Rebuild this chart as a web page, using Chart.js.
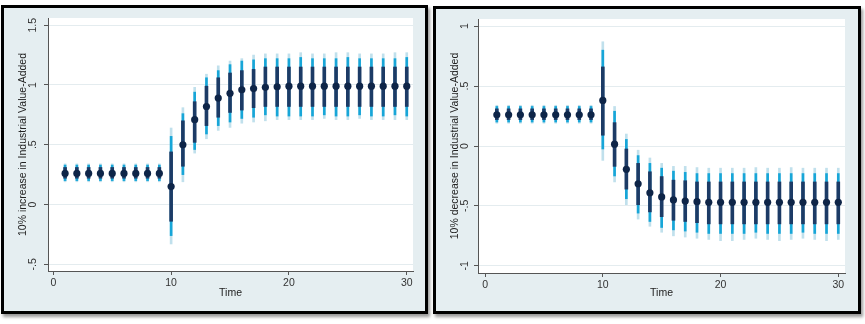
<!DOCTYPE html>
<html>
<head>
<meta charset="utf-8">
<script src="https://cdn.jsdelivr.net/npm/chart.js@4.4.1/dist/chart.umd.min.js"></script>
<style>
  body { margin: 0; background: #fff; }
  .panel { position: absolute; border: 3px solid #000; background: #e5eef1; box-shadow: 2px 3px 3px rgba(0,0,0,0.4); }
  #panelUp { left: 1px; top: 5px; width: 421px; height: 303px; }
  #panelDown { left: 433px; top: 6px; width: 422px; height: 302px; }
  canvas { display: block; }
</style>
</head>
<body>
<div class="panel" id="panelUp"><canvas id="upChart" width="421" height="303"></canvas></div>
<div class="panel" id="panelDown"><canvas id="downChart" width="422" height="302"></canvas></div>
<script>
const periods = [1, 2, 3, 4, 5, 6, 7, 8, 9, 10, 11, 12, 13, 14, 15, 16, 17, 18, 19, 20, 21, 22, 23, 24, 25, 26, 27, 28, 29, 30];
const xTicks = [0, 10, 20, 30];
const upTicks = [-0.5, 0, 0.5, 1, 1.5];
const downTicks = [-1, -0.5, 0, 0.5, 1];

// 10% increase: point estimate and three confidence bands (inner, middle, outer)
const upEst = [0.26, 0.26, 0.26, 0.26, 0.26, 0.26, 0.26, 0.26, 0.26, 0.15, 0.50, 0.71, 0.82, 0.89, 0.93, 0.96, 0.97, 0.98, 0.985, 0.99, 0.99, 0.99, 0.99, 0.99, 0.99, 0.99, 0.99, 0.99, 0.99, 0.99];
const upInner = [[0.22, 0.31], [0.22, 0.31], [0.22, 0.31], [0.22, 0.31], [0.22, 0.31], [0.22, 0.31], [0.22, 0.31], [0.22, 0.31], [0.22, 0.31],
  [-0.14, 0.44], [0.32, 0.70], [0.52, 0.86], [0.66, 0.99], [0.73, 1.06], [0.77, 1.10], [0.79, 1.12], [0.81, 1.13], [0.82, 1.15], [0.82, 1.15],
  [0.82, 1.15], [0.82, 1.15], [0.82, 1.15], [0.82, 1.15], [0.82, 1.15], [0.82, 1.15], [0.82, 1.15], [0.82, 1.15], [0.82, 1.15], [0.82, 1.15], [0.82, 1.15]];
const upMid = [[0.20, 0.33], [0.20, 0.33], [0.20, 0.33], [0.20, 0.33], [0.20, 0.33], [0.20, 0.33], [0.20, 0.33], [0.20, 0.33], [0.20, 0.33],
  [-0.26, 0.57], [0.25, 0.76], [0.46, 0.94], [0.59, 1.06], [0.66, 1.12], [0.69, 1.17], [0.72, 1.20], [0.73, 1.21], [0.75, 1.22], [0.74, 1.22],
  [0.74, 1.22], [0.74, 1.23], [0.74, 1.22], [0.75, 1.22], [0.74, 1.22], [0.74, 1.23], [0.75, 1.22], [0.74, 1.22], [0.74, 1.22], [0.75, 1.22], [0.74, 1.23]];
const upOuter = [[0.19, 0.34], [0.19, 0.34], [0.19, 0.34], [0.19, 0.34], [0.19, 0.34], [0.19, 0.34], [0.19, 0.34], [0.19, 0.34], [0.19, 0.34],
  [-0.33, 0.64], [0.19, 0.81], [0.43, 0.98], [0.55, 1.09], [0.62, 1.16], [0.645, 1.20], [0.68, 1.22], [0.69, 1.25], [0.70, 1.26], [0.71, 1.26],
  [0.71, 1.26], [0.71, 1.27], [0.71, 1.26], [0.72, 1.26], [0.71, 1.27], [0.71, 1.27], [0.72, 1.26], [0.71, 1.26], [0.71, 1.26], [0.71, 1.27], [0.71, 1.27]];

// 10% decrease
const downEst = [0.26, 0.26, 0.26, 0.26, 0.26, 0.26, 0.26, 0.26, 0.26, 0.38, 0.015, -0.195, -0.315, -0.39, -0.425, -0.45, -0.46, -0.465, -0.47, -0.47, -0.47, -0.47, -0.47, -0.47, -0.47, -0.47, -0.47, -0.47, -0.47, -0.47];
const downInner = [[0.22, 0.31], [0.22, 0.31], [0.22, 0.31], [0.22, 0.31], [0.22, 0.31], [0.22, 0.31], [0.22, 0.31], [0.22, 0.31], [0.22, 0.31],
  [0.09, 0.66], [-0.17, 0.195], [-0.36, -0.025], [-0.49, -0.145], [-0.55, -0.215], [-0.59, -0.255], [-0.62, -0.285], [-0.63, -0.29], [-0.64, -0.30], [-0.65, -0.30],
  [-0.65, -0.30], [-0.65, -0.30], [-0.65, -0.30], [-0.65, -0.30], [-0.65, -0.30], [-0.65, -0.30], [-0.65, -0.30], [-0.65, -0.30], [-0.65, -0.30], [-0.65, -0.30], [-0.65, -0.30]];
const downMid = [[0.20, 0.33], [0.20, 0.33], [0.20, 0.33], [0.20, 0.33], [0.20, 0.33], [0.20, 0.33], [0.20, 0.33], [0.20, 0.33], [0.20, 0.33],
  [-0.025, 0.80], [-0.25, 0.29], [-0.44, 0.055], [-0.56, -0.08], [-0.63, -0.145], [-0.68, -0.185], [-0.70, -0.21], [-0.71, -0.22], [-0.72, -0.23], [-0.73, -0.23],
  [-0.73, -0.23], [-0.73, -0.23], [-0.73, -0.23], [-0.72, -0.23], [-0.73, -0.23], [-0.73, -0.23], [-0.73, -0.23], [-0.72, -0.23], [-0.73, -0.23], [-0.73, -0.23], [-0.73, -0.23]];
const downOuter = [[0.19, 0.34], [0.19, 0.34], [0.19, 0.34], [0.19, 0.34], [0.19, 0.34], [0.19, 0.34], [0.19, 0.34], [0.19, 0.34], [0.19, 0.34],
  [-0.12, 0.87], [-0.30, 0.33], [-0.49, 0.10], [-0.61, -0.035], [-0.67, -0.10], [-0.72, -0.145], [-0.75, -0.17], [-0.76, -0.17], [-0.77, -0.18], [-0.78, -0.185],
  [-0.79, -0.185], [-0.79, -0.185], [-0.78, -0.185], [-0.77, -0.18], [-0.78, -0.185], [-0.79, -0.185], [-0.78, -0.18], [-0.77, -0.185], [-0.78, -0.185], [-0.79, -0.185], [-0.78, -0.185]];

const FONT = "'Liberation Sans', Arial, sans-serif";

// Stata style labels: .5, -.5
function stataLabel(v) {
    if (v === 0) return '0';
    return String(v).replace(/^(-?)0\./, '$1.');
}

const stataFrame = {
    id: 'stataFrame',
    beforeDraw(chart) {
        const { ctx, chartArea: a } = chart;
        ctx.save();
        ctx.fillStyle = '#fff';
        ctx.fillRect(a.left, a.top, a.right - a.left, a.bottom - a.top);
        ctx.restore();
    },
    afterDraw(chart) {
        const { ctx } = chart;
        const yScale = chart.scales.y;
        ctx.save();
        ctx.fillStyle = '#333';
        ctx.font = '10.5px ' + FONT;
        ctx.textAlign = 'center';
        ctx.textBaseline = 'middle';
        yScale.ticks.forEach(t => {
            const py = yScale.getPixelForValue(t.value);
            ctx.save();
            ctx.translate(chart.options.plugins.stataFrame.labelX, py);
            ctx.rotate(-Math.PI / 2);
            ctx.fillText(stataLabel(t.value), 0, 0);
            ctx.restore();
        });
        ctx.restore();
    }
};

function points(values) {
    return values.map((v, i) => ({ x: periods[i], y: v }));
}

function buildChart(id, cfg) {
    const ctx = document.getElementById(id).getContext('2d');
    return new Chart(ctx, {
        type: 'bar',
        data: {
            datasets: [
                { type: 'scatter', data: points(cfg.est), pointRadius: 3.6, pointHoverRadius: 3.6, pointBorderWidth: 0, pointBackgroundColor: '#0e2548', order: 0 },
                { data: points(cfg.inner), backgroundColor: '#1c3b66', barThickness: 3, grouped: false, order: 1 },
                { data: points(cfg.mid), backgroundColor: '#17a6d8', barThickness: 2, grouped: false, order: 2 },
                { data: points(cfg.outer), backgroundColor: '#c0e0ec', barThickness: 2, grouped: false, order: 3 }
            ]
        },
        options: {
            responsive: false,
            animation: false,
            layout: { padding: { top: 10, right: cfg.padRight, left: 0, bottom: 0 } },
            plugins: {
                legend: { display: false },
                tooltip: { enabled: false },
                stataFrame: { labelX: cfg.labelX }
            },
            scales: {
                x: {
                    type: 'linear',
                    min: cfg.xMin,
                    max: cfg.xMax,
                    offset: false,
                    afterBuildTicks: s => { s.ticks = xTicks.map(v => ({ value: v })); },
                    afterFit: s => { s.height = cfg.axisH; },
                    grid: { drawOnChartArea: false, offset: false, tickLength: 4, tickColor: '#555' },
                    border: { color: '#555' },
                    ticks: { color: '#333', padding: 2, maxRotation: 0, font: { family: FONT, size: 10.5 }, callback: v => stataLabel(v) },
                    title: { display: true, text: 'Time', color: '#222', padding: { top: 0, bottom: 12 }, font: { family: FONT, size: 10.5 } }
                },
                y: {
                    type: 'linear',
                    min: cfg.yMin,
                    max: cfg.yMax,
                    afterBuildTicks: s => { s.ticks = cfg.yTicks.map(v => ({ value: v })); },
                    afterFit: s => { s.width = cfg.axisW; },
                    grid: { color: '#e4ecef', tickLength: 4, tickColor: '#555' },
                    border: { color: '#555' },
                    ticks: { display: false },
                    title: { display: true, text: cfg.yTitle, color: '#222', padding: { top: 12.5, bottom: 0 }, font: { family: FONT, size: 10.5 } }
                }
            }
        },
        plugins: [stataFrame]
    });
}

buildChart('upChart', {
    est: upEst, inner: upInner, mid: upMid, outer: upOuter,
    yTicks: upTicks, yMin: -0.556, yMax: 1.56, xMin: -0.45, xMax: 30.53,
    yTitle: '10% increase in Industrial Value-Added',
    axisW: 44, axisH: 40, padRight: 12, labelX: 29.5
});

buildChart('downChart', {
    est: downEst, inner: downInner, mid: downMid, outer: downOuter,
    yTicks: downTicks, yMin: -1.06, yMax: 1.06, xMin: -0.6, xMax: 30.57,
    yTitle: '10% decrease in Industrial Value-Added',
    axisW: 42, axisH: 38, padRight: 13, labelX: 29.3
});
</script>
</body>
</html>
